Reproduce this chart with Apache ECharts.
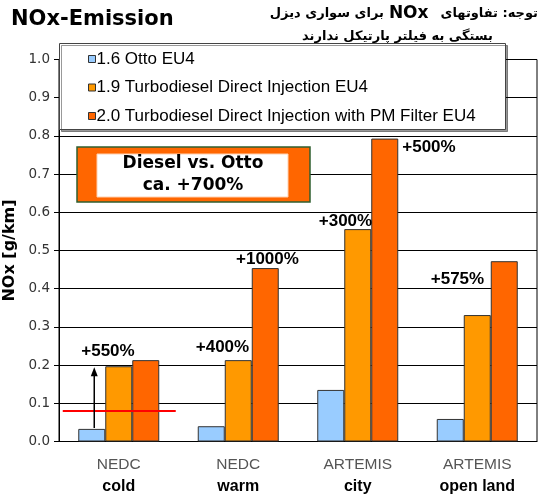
<!DOCTYPE html>
<html><head><meta charset="utf-8">
<script src="https://cdn.jsdelivr.net/npm/echarts@6/dist/echarts.min.js"></script>
<style>html,body{margin:0;padding:0;background:#fff}#c{width:540px;height:501px}</style>
</head><body><div id="c"></div>
<script>
// ---- data ----
const catTop = ['NEDC', 'NEDC', 'ARTEMIS', 'ARTEMIS'];
const catBottom = ['cold', 'warm', 'city', 'open land'];
const seriesNames = ['1.6 Otto EU4', '1.9 Turbodiesel Direct Injection EU4', '2.0 Turbodiesel Direct Injection with PM Filter EU4'];
const ottoValues = [0.033, 0.040, 0.135, 0.059];
const tdiValues = [0.197, 0.213, 0.556, 0.331];
const tdiFilterValues = [0.213, 0.454, 0.793, 0.472];
const yMin = 0, yMax = 1, yStep = 0.1;
const changeLabels = ['+550%', '+400%', '+1000%', '+300%', '+500%', '+575%'];
const changeCats = [0, 1, 1, 2, 2, 3];
const changeLevels = [0.237, 0.247, 0.4775, 0.576, 0.769, 0.424];
const referenceLevel = 0.08;
const boxLines = ['Diesel vs. Otto', 'ca. +700%'];
const titleText = 'NOx-Emission';
const axisName = 'NOx [g/km]';
// note, words in reading (logical) order
const noteWordsA = ['توجه:', 'تفاوتهای'];
const noteMid = 'NOx';
const noteWordsB = ['برای', 'سواری', 'دیزل'];
const noteWordsC = ['بستگی', 'به', 'فیلتر', 'پارتیکل', 'ندارند'];

// ---- layout / style ----
const categories = catTop.map((t, i) => t + '\n' + catBottom[i]);
const valueSets = [ottoValues, tdiValues, tdiFilterValues];
const colors = ['#99CCFF', '#FF9900', '#FF6600'];
const labelDx = [-10.8, -15.8, 29.2, -12.3, 71.2, -19.8];
const RLM = '\u200F';
// right-to-left line: words laid out visually from right to left, one token each
const tokRtl = (ws, k) => ws.slice().reverse().map(w => '{' + k + '|' + w + RLM + '}').join('{s| }');
const noteFont = 'bold 13px "DejaVu Sans"';

const chart = echarts.init(document.getElementById('c'), null, {renderer: 'canvas'});
const option = {
  animation: false,
  backgroundColor: '#fff',
  grid: {left: 59, right: 3, top: 59.5, bottom: 59.5, show: true, borderColor: '#000', borderWidth: 1,
         containLabel: false, outerBoundsMode: 'none'},
  legend: {
    orient: 'vertical', left: 88, top: 49, padding: 0, itemWidth: 7, itemHeight: 7, itemGap: 8.5, icon: 'rect',
    selectedMode: false, z: 6,
    textStyle: {fontFamily: 'Liberation Sans', fontSize: 17, color: '#000', lineHeight: 20, padding: [0, 0, 0, -4]},
    itemStyle: {borderColor: '#333', borderWidth: 1},
    data: seriesNames
  },
  xAxis: {
    type: 'category', data: categories,
    axisLine: {lineStyle: {color: '#000'}},
    axisTick: {length: 5, lineStyle: {color: '#000'}},
    axisLabel: {
      margin: 12,
      formatter: v => { const p = v.split('\n'); return '{a|' + p[0] + '}\n{b|' + p[1] + '}'; },
      rich: {
        a: {fontFamily: 'Liberation Sans', fontSize: 15.5, color: '#555', lineHeight: 22},
        b: {fontFamily: 'Liberation Sans', fontSize: 16, fontWeight: 'bold', color: '#000', lineHeight: 22}
      }
    }
  },
  yAxis: {
    type: 'value', min: yMin, max: yMax, interval: yStep,
    name: axisName, nameLocation: 'middle', nameGap: 41, nameRotate: 90,
    nameTextStyle: {fontFamily: 'DejaVu Sans', fontWeight: 'bold', fontSize: 16, color: '#000'},
    axisLine: {show: true, lineStyle: {color: '#000'}},
    axisTick: {show: true, length: 5, lineStyle: {color: '#000'}},
    axisLabel: {margin: 9, formatter: v => v.toFixed(1), fontFamily: 'DejaVu Sans', fontSize: 13.5, color: '#333'},
    splitLine: {lineStyle: {color: '#000', width: 1}}
  },
  series: seriesNames.map((n, i) => ({
    name: n, type: 'bar', data: valueSets[i], barWidth: 27, barGap: '0%',
    itemStyle: {color: colors[i], borderColor: '#333', borderWidth: 1}
  }))
};
chart.setOption(option);

const px = (c, v) => chart.convertToPixel({gridIndex: 0}, [c, v]);
const g = [];
// legend frame
g.push({type: 'rect', z: 3, shape: {x: 59.5, y: 43.5, width: 446, height: 86},
  style: {fill: '#fff', stroke: '#444', lineWidth: 1, shadowColor: 'rgba(0,0,0,0.4)', shadowOffsetX: 2, shadowOffsetY: 2, shadowBlur: 0}});
// title
g.push({type: 'text', z: 10, x: 11, y: 19.5, style: {text: titleText, fill: '#000', font: 'bold 21px "DejaVu Sans"', verticalAlign: 'middle', align: 'left'}});
// persian note (right-to-left)
const noteRich = {p: {font: noteFont, fill: '#000'}, s: {font: noteFont, fill: '#000'},
  w: {font: noteFont, fill: '#000', width: 12}, v: {font: noteFont, fill: '#000', width: 5},
  n: {font: 'bold 17px "DejaVu Sans"', fill: '#000'}};
g.push({type: 'text', z: 10, x: 538, y: 14, style: {
  text: tokRtl(noteWordsB, 'p') + '{v| }{n|' + noteMid + '}{w| }' + tokRtl(noteWordsA, 'p'),
  font: noteFont, align: 'right', verticalAlign: 'middle', rich: noteRich
}});
g.push({type: 'text', z: 10, x: 397.5, y: 37, style: {
  text: tokRtl(noteWordsC, 'p'), font: noteFont, fill: '#000', align: 'center', verticalAlign: 'middle', rich: noteRich
}});
// annotation box
g.push({type: 'rect', z: 8, shape: {x: 77, y: 147, width: 233, height: 55}, style: {fill: '#FF6600', stroke: '#2F5F2F', lineWidth: 1.5}});
g.push({type: 'rect', z: 9, shape: {x: 97, y: 154, width: 191, height: 43}, style: {fill: '#fff', stroke: '#FFD0B0', lineWidth: 1}});
g.push({type: 'text', z: 10, x: 193, y: 164, style: {text: boxLines[0], font: 'bold 17px "DejaVu Sans"', fill: '#000', align: 'center', verticalAlign: 'middle'}});
g.push({type: 'text', z: 10, x: 193, y: 186, style: {text: boxLines[1], font: 'bold 17px "DejaVu Sans"', fill: '#000', align: 'center', verticalAlign: 'middle'}});
// change labels
changeLabels.forEach((t, i) => {
  const p = px(changeCats[i], changeLevels[i]);
  g.push({type: 'text', z: 10, x: p[0] + labelDx[i], y: p[1], style: {text: t, font: 'bold 17px "Liberation Sans"', fill: '#000', align: 'center', verticalAlign: 'middle'}});
});
// reference red line
const r = px(0, referenceLevel);
g.push({type: 'line', z: 10, shape: {x1: r[0] - 56, y1: r[1], x2: r[0] + 57, y2: r[1]}, style: {stroke: '#FF0000', lineWidth: 2}});
// arrow from Otto to diesel level
const a0 = px(0, ottoValues[0]);
const a1 = px(0, tdiValues[0]);
const ax = a0[0] - 24.5;
g.push({type: 'line', z: 10, shape: {x1: ax, y1: a0[1] - 1, x2: ax, y2: a1[1] + 7}, style: {stroke: '#000', lineWidth: 1.5}});
g.push({type: 'polygon', z: 10, shape: {points: [[ax, a1[1] + 1], [ax - 3.5, a1[1] + 10], [ax + 3.5, a1[1] + 10]]}, style: {fill: '#000'}});
chart.setOption({graphic: {elements: g}});
</script></body></html>
